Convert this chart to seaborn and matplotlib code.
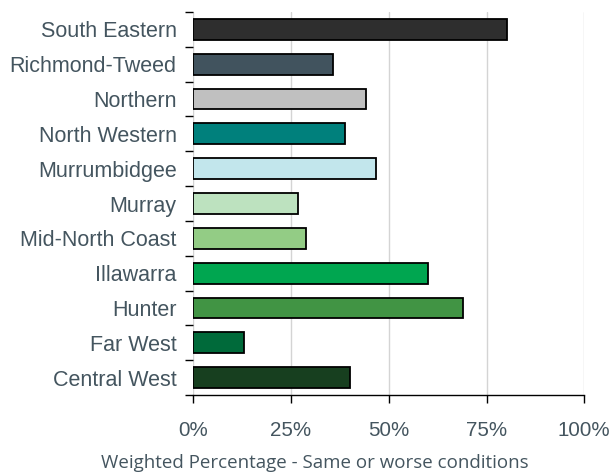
import matplotlib
matplotlib.use("Agg")
import matplotlib.pyplot as plt
import seaborn as sns
from matplotlib.ticker import FixedLocator, PercentFormatter

regions = ['South Eastern', 'Richmond-Tweed', 'Northern', 'North Western',
           'Murrumbidgee', 'Murray', 'Mid-North Coast', 'Illawarra',
           'Hunter', 'Far West', 'Central West']
values = [80.2, 35.8, 44.1, 38.9, 46.8, 26.7, 28.8, 60.1, 68.9, 12.9, 40.2]
colors = ['#2e2e2e', '#41535e', '#c0c0c0', '#00807c', '#c2e6ec', '#bde2bf',
          '#93cc85', '#00a650', '#419444', '#006a3a', '#173f1f']

sns.set_style('white')
plt.rcParams['font.family'] = ['Liberation Sans', 'DejaVu Sans']
text_col = '#44555f'

fig = plt.figure(figsize=(6.14, 4.72), dpi=100)
ax = fig.add_axes([0.3148, 0.1631, 0.6368, 0.8115])

sns.barplot(x=values, y=regions, hue=regions, palette=colors, legend=False,
            orient='h', width=0.6, edgecolor='black', linewidth=1.3,
            saturation=1, ax=ax, zorder=3)

ax.set_xlim(0, 100)
ax.set_ylim(10.5, -0.5)
ax.set_xticks([0, 25, 50, 75, 100])
ax.xaxis.set_major_formatter(PercentFormatter(decimals=0))
ax.grid(axis='x', color='#d4d4d4', linewidth=1, zorder=0)
ax.set_axisbelow(True)

for s in ['top', 'right', 'left']:
    ax.spines[s].set_visible(False)
ax.spines['bottom'].set_color('black')
ax.spines['bottom'].set_linewidth(1)

ax.tick_params(axis='x', direction='out', length=6, width=1, color='black',
               labelsize=14.8, labelcolor=text_col, pad=13, bottom=True)
ax.tick_params(axis='y', which='major', length=0, labelsize=15.5,
               labelcolor=text_col, pad=12)
ax.yaxis.set_minor_locator(FixedLocator([i - 0.5 for i in range(12)]))
ax.tick_params(axis='y', which='minor', direction='out', length=6, width=1,
               color='black', left=True)

ax.set_xlabel('')
ax.set_ylabel('')
fig.text(0.513, 1 - 463 / 472, 'Weighted Percentage - Same or worse conditions',
         ha='center', va='center', fontsize=13.5, color=text_col,
         family=['Open Sans', 'DejaVu Sans'])

fig.savefig('out.png', dpi=100)
